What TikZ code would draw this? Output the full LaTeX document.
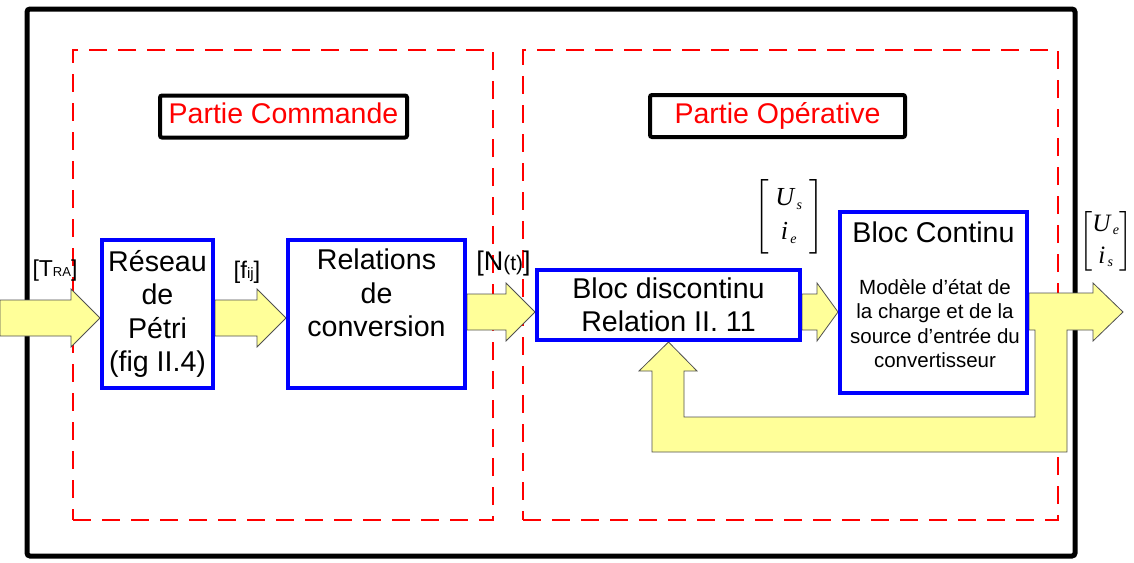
\documentclass[tikz,border=0pt]{standalone}
\usepackage{amsmath}
\usepackage{fontspec}
\setmainfont{Liberation Sans}
\newfontfamily\matfont{Liberation Serif}
\usetikzlibrary{calc}
\definecolor{yfill}{RGB}{255,255,153}
\definecolor{yedge}{RGB}{80,80,80}
\pgfdeclarelayer{frames}
\pgfdeclarelayer{flows}
\pgfsetlayers{frames,flows,main}

\tikzset{
  outerframe/.style={draw=black, line width=5pt, rounded corners=3pt,
    minimum width=1048pt, minimum height=547pt, inner sep=0pt},
  zone/.style={draw=red, line width=2.2pt, dash pattern=on 18pt off 11pt,
    minimum height=470pt, inner sep=0pt},
  titlebox/.style={draw=black, line width=4pt, rounded corners=2pt,
    minimum height=42pt, text=red, font=\fontsize{28.5}{28.5}\selectfont,
    text height=20.5pt, text depth=6pt, inner sep=0pt},
  blk/.style={draw=blue, line width=4pt, inner sep=0pt},
  bigtxt/.style={align=center, font=\fontsize{28.6}{33.5}\selectfont, inner sep=0pt},
  smalltxt/.style={align=center, font=\fontsize{20.5}{24.5}\selectfont, inner sep=0pt},
  flow/.style={fill=yfill, draw=yedge, line width=0.8pt, line join=miter},
  sig/.style={inner sep=0pt},
}

% italic serif entries of the state vectors
\newcommand\mvar[2]{\text{\matfont\itshape #1}_{\text{\matfont\itshape\fontsize{14}{14}\selectfont\,#2}}}

% horizontal block arrow: [head length]{start}{tip}
\newcommand\blockflow[3][29]{%
  \path[flow] let \p1=(#2), \p2=(#3) in
    (\x1,\y2+18pt) -- (\x2-#1pt,\y2+18pt) -- (\x2-#1pt,\y2+29pt) -- (\x2,\y2)
    -- (\x2-#1pt,\y2-29pt) -- (\x2-#1pt,\y2-18pt) -- (\x1,\y2-18pt) -- cycle;}

\begin{document}
\begin{tikzpicture}[x=1pt,y=-1pt]
\useasboundingbox (0,0) rectangle (1134,562);

% frames
\begin{pgfonlayer}{frames}
  \node[outerframe] (frame) at (551,282.5) {};
  \node[zone, minimum width=420pt] (zc) at (283,285) {};
  \node[zone, minimum width=535pt] (zo) at (790.5,285) {};
\end{pgfonlayer}

% titles
\node[titlebox, minimum width=247pt] (pc) at (283.5,116.5) {Partie Commande};
\node[titlebox, minimum width=255pt] (po) at (777.5,116) {Partie Opérative};

% blocks
\node[blk, bigtxt, minimum width=111pt, minimum height=148pt] (res) at (157.5,314)
  {Réseau\\de\\Pétri\\(fig II.4)};
\node[blk, minimum width=177pt, minimum height=148pt] (rel) at (376.5,314) {};
\node[bigtxt] (relt) at (376.5,293) {Relations\\de\\conversion};
\node[blk, bigtxt, minimum width=263pt, minimum height=70pt] (dis) at (668.5,305)
  {Bloc discontinu\\Relation II. 11};
\node[blk, minimum width=187pt, minimum height=181pt] (con) at (933.5,302.5) {};
\node[bigtxt] (cont) at (933.5,232) {Bloc Continu};
\node[smalltxt] (conm) at (935,323.5)
  {Modèle d’état de\\la charge et de la\\source d’entrée du\\convertisseur};

% signal labels
\node[sig] (ltra) at (55,271)
  {\fontsize{23}{23}\selectfont[T{\fontsize{13}{13}\selectfont RA}]};
\node[sig] (lfij) at (247,272.5)
  {\fontsize{24}{24}\selectfont[f{\fontsize{15}{15}\selectfont ij}]};
\node[sig] (lnt) at (503.5,263.5)
  {\fontsize{27}{27}\selectfont[N{\fontsize{21}{21}\selectfont (t)}]};
\node[sig] (mus) at (789,216.5)
  {\fontsize{26}{31}\selectfont$\left[\;\begin{matrix}\mvar{U}{s}\\[3pt] \mvar{i}{e}\end{matrix}\;\right]$};
\node[sig] (mue) at (1106,241)
  {\fontsize{25}{30}\selectfont$\left[\begin{matrix}\mvar{U}{e}\\[2pt] \mvar{i}{s}\end{matrix}\right]$};

% flows
\coordinate (in) at (0,318);
\coordinate (lvl) at (0,312);
\begin{pgfonlayer}{flows}
  \blockflow{in}{res.west |- in}
  \blockflow{res.east |- in}{rel.west |- in}
  \blockflow{rel.east |- lvl}{dis.west |- lvl}
  \blockflow[21]{dis.east |- lvl}{con.west |- lvl}
  % output with feedback loop back to the discontinuous block
  \path[flow] (con.east |- 0,293) -- (1093,293) -- (1093,283) -- (1123,312)
    -- (1093,341) -- (1093,330) -- (1067,330) -- (1067,452) -- (652,452)
    -- (652,371) -- (639,371) -- (dis.south) -- (697,371) -- (684,371)
    -- (684,417) -- (1035,417) -- (1035,330) -- (con.east |- 0,330) -- cycle;
\end{pgfonlayer}
\end{tikzpicture}
\end{document}
